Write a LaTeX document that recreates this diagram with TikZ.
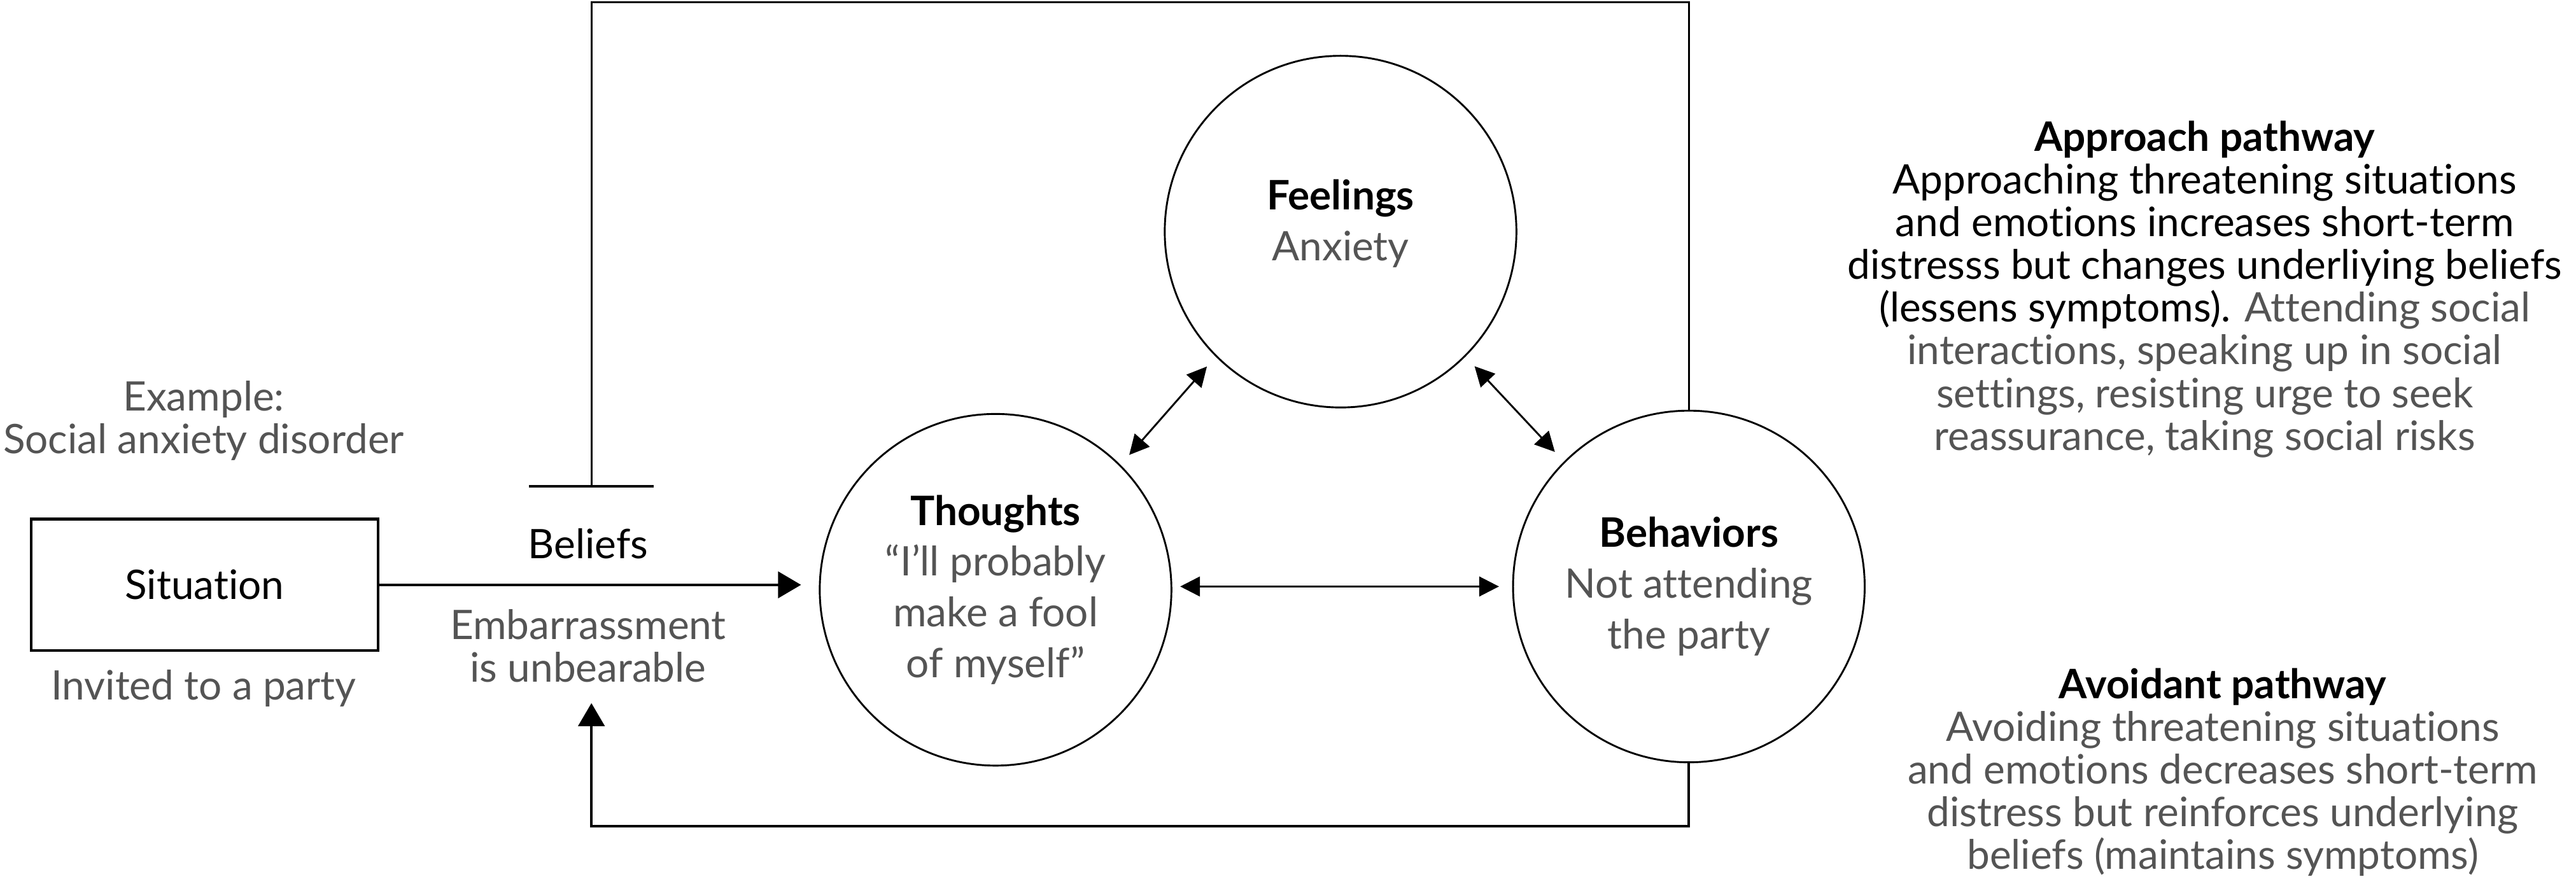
\documentclass[tikz,border=0pt]{standalone}
\usepackage{fontspec}
\setmainfont{Lato}[Ligatures=NoCommon]
\usetikzlibrary{arrows.meta}
\definecolor{grau}{gray}{0.33}
\begin{document}
\begin{tikzpicture}[x=0.025cm, y=-0.025cm, line width=0.8pt, font=\fontsize{17.6}{18.5}\selectfont]
  \tikzstyle{c} = [draw, shape=circle, minimum size=5.35cm, inner sep=0pt, align=center, font=\fontsize{17.6}{22}\selectfont]
  \tikzstyle{t} = [align=center, inner sep=0pt]
  \tikzstyle{g} = [t, text=grau]
  \tikzstyle{pfeil} = [{Triangle[length=0.3cm,width=0.3cm]}-{Triangle[length=0.3cm,width=0.3cm]}, shorten <=0.2cm, shorten >=0.2cm]
  \tikzstyle{spitze} = [-{Triangle[length=0.35cm,width=0.4cm]}]
  \useasboundingbox (0,0) rectangle (1568,535);

  % Kreise
  \node[c] (th) at (606,359) {\textbf{Thoughts}\\\textcolor{grau}{“I’ll probably}\\\textcolor{grau}{make a fool}\\\textcolor{grau}{of myself”}};
  \node[c] (fe) at (816,141) {\textbf{Feelings}\\\textcolor{grau}{Anxiety}\\[-0.42cm]\mbox{}};
  \node[c] (be) at (1028,357) {\textbf{Behaviors}\\\textcolor{grau}{Not attending}\\\textcolor{grau}{the party}};

  % Situation
  \node[draw, line width=1.2pt, minimum width=5.275cm, minimum height=2cm] (sit) at (124.5,356) {Situation};
  \node[g] (inv) at (124,419) {Invited to a party};
  \node[g] (ex) at (124,256) {Example:\\Social anxiety disorder};

  % Beliefs
  \node[t] (bel) at (358,331) {Beliefs};
  \node[g] (emb) at (358,393) {Embarrassment\\is unbearable};

  % Verbindungen
  \draw[spitze, line width=1.2pt, shorten >=0.27cm] (sit) -- (th.west |- sit);
  \draw[pfeil] (th.45) -- (fe.225);
  \draw[pfeil] (fe.-45) -- (be.135);
  \draw[pfeil, shorten <=0.12cm] (th.east |- be) -- (be);

  % Rahmen oben (Annaeherung)
  \coordinate (tr) at (1028,1.5);
  \coordinate (tl) at (360,1.5);
  \coordinate (hemm) at (360,296);
  \draw (be.north) -- (tr) -- (tl) -- (hemm);
  \draw[line width=1.3pt] (hemm) ++(-38,0) -- ++(76,0);

  % Rahmen unten (Vermeidung)
  \coordinate (br) at (1028,503);
  \coordinate (bl) at (360,503);
  \coordinate (btip) at (360,428);
  \draw[spitze, line width=1.1pt] (be.south) -- (br) -- (bl) -- (btip);

  % Pfade
  \node[t] (appr) at (1342,176) {\textbf{Approach pathway}\\Approaching threatening situations\\and emotions increases short-term\\distresss but changes underliying beliefs\\(lessens symptoms). \textcolor{grau}{Attending social}\\\textcolor{grau}{interactions, speaking up in social}\\\textcolor{grau}{settings, resisting urge to seek}\\\textcolor{grau}{reassurance, taking social risks}};
  \node[g] (avoid) at (1353,470) {\textcolor{black}{\textbf{Avoidant pathway}}\\Avoiding threatening situations\\and emotions decreases short-term\\distress but reinforces underlying\\beliefs (maintains symptoms)};
\end{tikzpicture}
\end{document}
